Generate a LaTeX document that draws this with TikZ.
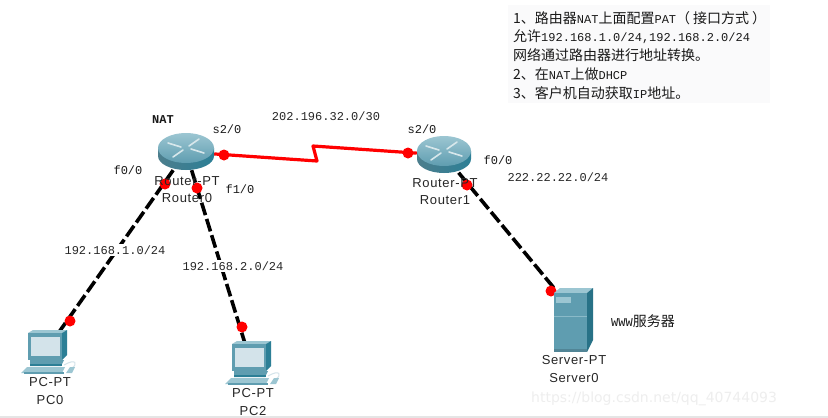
\documentclass[tikz,border=0pt]{standalone}
\usepackage{fontspec}
\setmainfont{DejaVu Sans}
\setmonofont{Liberation Mono}
\newfontfamily\cjk{Noto Sans CJK SC}
\newfontfamily\devfont[LetterSpace=5]{Liberation Sans}
\newcommand{\lat}[1]{{\ttfamily\fontsize{12}{12}\selectfont #1}}
\begin{document}
\begin{tikzpicture}[x=1pt,y=-1pt,
  devlabel/.style={inner sep=0pt,font=\devfont\fontsize{13}{13}\selectfont,text=black!85},
  netlabel/.style={fill=white,inner xsep=1pt,inner ysep=2pt,font=\ttfamily\fontsize{12}{12}\selectfont,text=black!85},
  portlabel/.style={inner sep=0pt,font=\ttfamily\fontsize{12}{12}\selectfont,text=black!90},
  device/.style={inner sep=0pt,minimum width=#1},
  port/.style={circle,fill=red,inner sep=0pt,minimum size=11pt},
  serial/.style={red,line width=3.2pt,line join=round},
  lan/.style={black,line width=3.6pt,dash pattern=on 13pt off 4pt},
]
\definecolor{pcmid}{HTML}{5F9DB0}
\definecolor{pcdark}{HTML}{2C7F96}
\definecolor{pclight}{HTML}{9CC6D2}
\definecolor{pcscreen}{HTML}{D3E3EA}
\definecolor{wm}{HTML}{EEEEEE}
\useasboundingbox (0,0) rectangle (828,418);
\fill[white] (0,0) rectangle (828,418);
\fill[black!10] (0,416) rectangle (828,418);
\fill[blue!30!black!2] (508,5) rectangle (770,103);

% device anchors
\node[device=56pt,minimum height=36pt] (r0) at (186,152) {};
\node[device=54pt,minimum height=35pt] (r1) at (444,155) {};
\node[device=44pt,minimum height=42pt] (pc0) at (45,352) {};
\node[device=44pt,minimum height=42pt] (pc2) at (251,363) {};
\node[device=39pt,minimum height=64pt] (srv) at (573.5,320) {};
\coordinate (kinka) at (317,161);
\coordinate (kinkb) at (313,146);

% connectors
\draw[serial] (r0) -- (kinka) -- (kinkb) -- (r1);
\draw[lan] (r0) -- (pc0);
\draw[lan] (r0) -- (pc2);
\draw[lan] (r1) -- (srv.north west);

% ports
\node[port] (p1) at (224,155) {};
\node[port] (p2) at (165,184) {};
\node[port] (p3) at (197,188) {};
\node[port] (p4) at (70,321) {};
\node[port] (p5) at (242,327) {};
\node[port] (p6) at (408,153) {};
\node[port] (p7) at (467,185) {};
\node[port] (p8) at (551,291) {};

% routers
\foreach \cx/\cy/\rx in {186/148/28,444/151/27}{
  \begin{scope}[shift={(\cx,\cy)}]
    \shade[left color=pcmid!80!black,middle color=pcscreen,right color=pcdark]
      (-\rx,0) -- (-\rx,8) arc[start angle=180,end angle=0,x radius=\rx,y radius=14]
      -- (\rx,0) -- cycle;
    \shade[top color=pclight,bottom color=pcmid] (0,0) ellipse[x radius=\rx,y radius=15];
    \draw[white!75!pcmid,line width=1.6pt,line cap=round] (-18,-5) -- (-5,-1);
    \draw[white!75!pcmid,line width=1.6pt,line cap=round] (18,5) -- (5,1);
    \draw[white!75!pcmid,line width=1.6pt,line cap=round] (13,-9) -- (3,-2);
    \draw[white!75!pcmid,line width=1.6pt,line cap=round] (-13,9) -- (-3,2);
  \end{scope}
}

% computers
\foreach \ox/\oy in {0/0,204/11}{
  \begin{scope}[shift={(\ox,\oy)}]
    \fill[pclight] (28,333) -- (33,330) -- (67,330) -- (62,333) -- cycle;
    \fill[pcdark] (62,333) -- (67,330) -- (67,355) -- (62,360) -- cycle;
    \fill[pcmid] (28,333) rectangle (62,360);
    \fill[pcscreen] (31,337) rectangle (60,356);
    \fill[pcmid] (30,360) -- (64,360) -- (61,366) -- (30,366) -- cycle;
    \fill[pcdark] (30,364) rectangle (62,366);
    \fill[pclight] (27,367) -- (65,367) -- (62,373) -- (21,373) -- cycle;
    \fill[pcmid] (24,372) rectangle (64,374);
    \draw[pcscreen,line width=1pt] (64,365) .. controls (76,358) and (78,364) .. (72,368);
    \fill[pclight] (66,373) -- (70,367) -- (75,367) -- (72,373) -- cycle;
  \end{scope}
}

% server
\fill[pclight] (554,293) -- (560,288) -- (593,288) -- (587,293) -- cycle;
\fill[pcdark!90!black] (587,293) -- (593,288) -- (593,340) -- (587,352) -- cycle;
\fill[pcmid] (554,293) rectangle (587,352);
\fill[pclight] (556,297) rectangle (571,303);
\draw[pclight!70!pcmid,line width=0.7pt] (554,316) -- (587,316);
\fill[pcmid!85!black] (554,349) rectangle (587,352);

% labels
\node[devlabel] (l1) at (187,181) {Router-PT};
\node[devlabel] (l2) at (187,198) {Router0};
\node[devlabel] (l3) at (445,183) {Router-PT};
\node[devlabel] (l4) at (445,200) {Router1};
\node[devlabel] (l5) at (50,382) {PC-PT};
\node[devlabel] (l6) at (50,400) {PC0};
\node[devlabel] (l7) at (253,393) {PC-PT};
\node[devlabel] (l8) at (253,411) {PC2};
\node[devlabel] (l9) at (574,360) {Server-PT};
\node[devlabel] (l10) at (574,378) {Server0};
\node[portlabel,font=\ttfamily\bfseries\fontsize{12}{12}\selectfont] (l11) at (163,120) {NAT};
\node[portlabel] (l12) at (227,129) {s2/0};
\node[portlabel] (l13) at (128,170) {f0/0};
\node[portlabel] (l14) at (240,189) {f1/0};
\node[portlabel] (l15) at (422,129) {s2/0};
\node[portlabel] (l16) at (498,160) {f0/0};
\node[netlabel] (l17) at (326,116) {202.196.32.0/30};
\node[netlabel] (l18) at (558,177) {222.22.22.0/24};
\node[netlabel] (l19) at (115,250) {192.168.1.0/24};
\node[netlabel] (l20) at (233,266) {192.168.2.0/24};
\node[inner sep=0pt,anchor=west,text=black!90,font=\cjk\fontsize{14}{14}\selectfont] (l21) at (611,321) {\lat{WWW}服务器};
\node[anchor=north west,inner sep=0pt,align=left,text=black!90,
      font=\cjk\fontsize{14}{18.8}\selectfont] (l22) at (513,11)
  {1、路由器\lat{NAT}上面配置\lat{PAT}（\hspace{3pt}接口方式\hspace{3pt}）\\
   允许\lat{192.168.1.0/24,192.168.2.0/24}\\
   网络通过路由器进行地址转换。\\
   2、在\lat{NAT}上做\lat{DHCP}\\
   3、客户机自动获取\lat{IP}地址。};
\node[anchor=west,inner sep=0pt,text=wm,font=\fontsize{14}{14}\selectfont] (l23) at (531,399) {https://blog.csdn.net/qq\_40744093};
\end{tikzpicture}
\end{document}
